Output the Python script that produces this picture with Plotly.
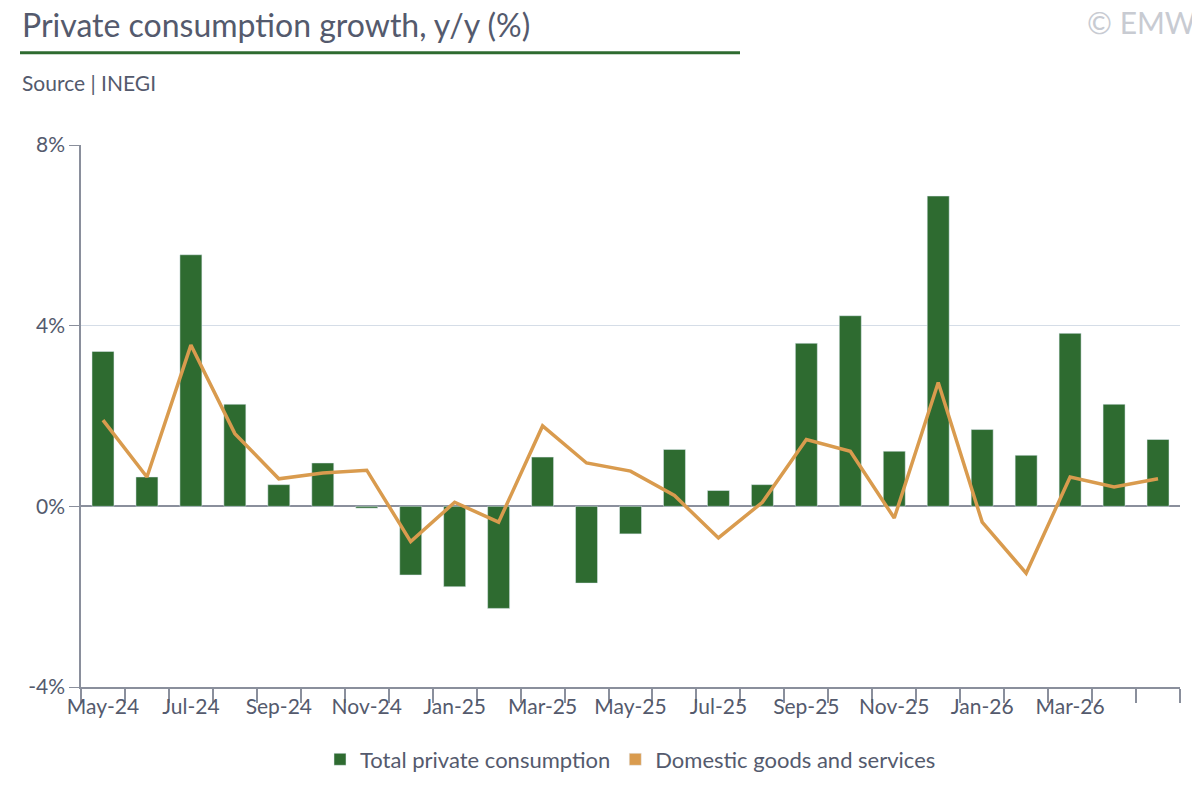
import plotly.graph_objects as go

months = ["May-24","Jun-24","Jul-24","Aug-24","Sep-24","Oct-24","Nov-24","Dec-24","Jan-25","Feb-25","Mar-25","Apr-25","May-25","Jun-25","Jul-25","Aug-25","Sep-25","Oct-25","Nov-25","Dec-25","Jan-26","Feb-26","Mar-26","Apr-26","May-26"]
total = [3.43,0.65,5.57,2.26,0.48,0.96,-0.04,-1.52,-1.78,-2.26,1.09,-1.70,-0.61,1.26,0.35,0.48,3.61,4.22,1.22,6.87,1.70,1.13,3.83,2.26,1.48]
domestic = [1.91,0.65,3.57,1.61,0.61,0.74,0.80,-0.78,0.09,-0.35,1.78,0.96,0.78,0.24,-0.70,0.09,1.48,1.22,-0.26,2.74,-0.35,-1.48,0.65,0.43,0.61]

GREEN = "#2e6b30"; ORANGE = "#d99b4e"; TXT = "#545a6d"
x = list(range(len(months)))
fig = go.Figure()
fig.add_bar(x=x, y=total, marker_color=GREEN, width=0.5, name="Total private consumption")
fig.add_scatter(x=x, y=domestic, mode="lines", line=dict(color=ORANGE, width=3.5), showlegend=False)
fig.add_bar(x=[None], y=[None], marker_color=ORANGE, name="Domestic goods and services")

W, H = 1185, 785
L, T = 73, 137
PW, PH = 1099, 552
fig.update_layout(
    width=W, height=H, plot_bgcolor="white", paper_bgcolor="white",
    margin=dict(l=L, r=W - L - PW, t=T, b=H - T - PH),
    font=dict(family="Lato, Open Sans, sans-serif", color=TXT, size=21),
    showlegend=True, barmode="overlay",
    legend=dict(orientation="h", x=0.5, xanchor="center", y=-0.095, yanchor="top", font=dict(size=22)),
    xaxis=dict(range=[-0.5, 24.5], tickvals=x[::2], ticktext=months[::2], ticks="outside", ticklen=0.1,
               tickcolor="white", showgrid=False,
               showline=True, linecolor="#8a8f9c", linewidth=1.5,
               minor=dict(tick0=0.5, dtick=1, ticks="outside", ticklen=14, tickcolor="#8a8f9c", tickwidth=1.5, showgrid=False),
               tickfont=dict(size=21)),
    yaxis=dict(range=[-4, 8], tickvals=[-4,0,4,8], ticktext=["-4%","0%","4%","8%"], ticks="outside",
               ticklen=10, tickcolor="#8a8f9c", showline=True, linecolor="#8a8f9c", linewidth=1.5,
               gridcolor="#d5dde7", gridwidth=1.2, zeroline=True, zerolinecolor="#8a8f9c", zerolinewidth=1.5,
               tickfont=dict(size=21)),
)
fig.add_annotation(text="Private consumption growth, y/y (%)", xref="paper", yref="paper", xanchor="left", yanchor="middle",
                   x=-61/PW, y=1+(145-22)/PH, showarrow=False, font=dict(size=32, color=TXT))
fig.add_annotation(text="Source | INEGI", xref="paper", yref="paper", xanchor="left", yanchor="middle",
                   x=-61/PW, y=1+(145-81)/PH, showarrow=False, font=dict(size=21, color=TXT))
fig.add_annotation(text="© EMW", xref="paper", yref="paper", xanchor="right", yanchor="middle",
                   x=1+18/PW, y=1+(145-20)/PH, showarrow=False, font=dict(size=30, color="#c8cbd2"))
fig.add_shape(type="line", xref="paper", yref="paper", x0=-61/PW, x1=659/PW, y0=1+(145-51)/PH, y1=1+(145-51)/PH,
              line=dict(color=GREEN, width=3))
fig.write_html("out.html")
